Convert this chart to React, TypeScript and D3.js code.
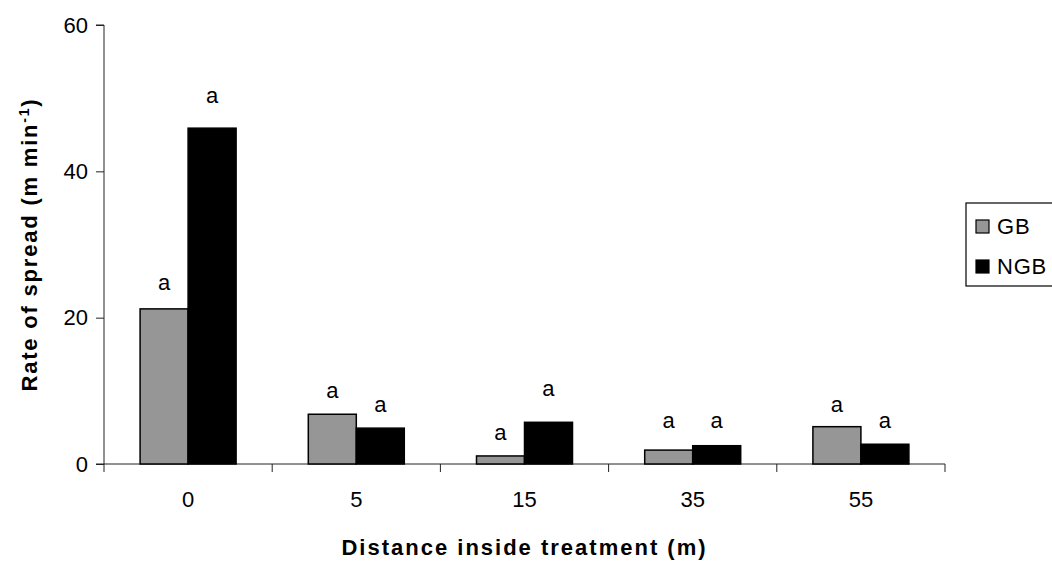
import React, { useEffect, useRef } from 'react'
import * as d3 from 'd3'

const categories = ['0', '5', '15', '35', '55']
const seriesNames = ['GB', 'NGB']
const gbValues = [21.2, 6.8, 1.1, 1.9, 5.1]
const ngbValues = [45.9, 4.9, 5.7, 2.5, 2.7]
// height (in data units) where the "a" letters sit
const gbLabelAt = [23.8, 9.0, 3.3, 4.9, 7.1]
const ngbLabelAt = [49.3, 7.1, 9.3, 4.9, 4.9]
const letters = ['a', 'a', 'a', 'a', 'a']
const yTicks = [0, 20, 40, 60]

const W = 1052
const H = 563
const margin = { top: 25, right: 107, bottom: 99, left: 104 }
const fills = { GB: '#969696', NGB: '#000000' }
const font = 'Liberation Sans, Arial, sans-serif'

const App = () => {
  const yRef = useRef<SVGGElement>(null)

  const innerW = W - margin.left - margin.right
  const innerH = H - margin.top - margin.bottom

  const x0 = d3.scaleBand().domain(categories).range([0, innerW]).padding(0)
  const bw = x0.bandwidth()
  const barW = 48
  const x1 = d3.scaleBand().domain(seriesNames).range([bw / 2 - barW, bw / 2 + barW]).padding(0)
  const y = d3.scaleLinear().domain([0, 60]).range([innerH, 0])

  const rows = categories.map((c, i) => ({
    cat: c,
    bars: [
      { key: 'GB', value: gbValues[i], label: gbLabelAt[i] },
      { key: 'NGB', value: ngbValues[i], label: ngbLabelAt[i] },
    ],
    letter: letters[i],
  }))

  useEffect(() => {
    const g = d3.select(yRef.current)
    g.selectAll('*').remove()
    g.call(d3.axisLeft(y).tickValues(yTicks).tickSize(8).tickPadding(8))
    g.selectAll('text').attr('font-size', 22).attr('font-family', font).attr('fill', '#000')
    g.selectAll('line').attr('stroke', '#222')
    g.select('.domain').attr('stroke', '#222').attr('d', `M-8,0H0V${innerH + 8}`)
  }, [])

  return (
    <svg width={W} height={H} style={{ position: 'absolute', left: 0, top: 0 }} fontFamily={font}>
      <g transform={`translate(${margin.left},${margin.top})`}>
        {/* x axis line with boundary ticks */}
        <line x1={-8} x2={innerW} y1={innerH} y2={innerH} stroke="#222" />
        {categories.map((c, i) => i > 0 ? (
          <line key={c} x1={x0(c)} x2={x0(c)} y1={innerH} y2={innerH + 8} stroke="#222" />
        ) : null)}
        <line x1={innerW} x2={innerW} y1={innerH} y2={innerH + 8} stroke="#222" />

        {rows.map(r => (
          <g key={r.cat} transform={`translate(${x0(r.cat)},0)`}>
            {r.bars.map(b => (
              <g key={b.key}>
                <rect
                  x={x1(b.key)}
                  y={y(b.value)}
                  width={x1.bandwidth()}
                  height={innerH - y(b.value)}
                  fill={fills[b.key as 'GB' | 'NGB']}
                  stroke="#000"
                  strokeWidth={1.5}
                />
                <text
                  x={(x1(b.key) as number) + x1.bandwidth() / 2}
                  y={y(b.label)}
                  textAnchor="middle"
                  fontSize={22}
                >{r.letter}</text>
              </g>
            ))}
            <text x={bw / 2} y={innerH + 43} textAnchor="middle" fontSize={22}>{r.cat}</text>
          </g>
        ))}

        <g ref={yRef} />

        <text x={innerW / 2} y={innerH + 91} textAnchor="middle" fontSize={22} fontWeight="bold" letterSpacing={2}>
          Distance inside treatment (m)
        </text>
        <text
          transform={`translate(${-67},${innerH / 2}) rotate(-90)`}
          textAnchor="middle"
          fontSize={22}
          fontWeight="bold"
          letterSpacing={1.8}
        >
          Rate of spread (m min<tspan dy={-8} fontSize={14}>-1</tspan><tspan dy={8}>)</tspan>
        </text>
      </g>

      {/* legend */}
      <g transform="translate(966,203)">
        <rect x={0} y={0} width={100} height={83} fill="#fff" stroke="#000" strokeWidth={1.2} />
        {seriesNames.map((s, i) => (
          <g key={s} transform={`translate(10,${17 + i * 40})`}>
            <rect x={0} y={0} width={13} height={13} fill={fills[s as 'GB' | 'NGB']} stroke="#000" strokeWidth={1.2} />
            <text x={21} y={14} fontSize={22} letterSpacing={0.8}>{s}</text>
          </g>
        ))}
      </g>
    </svg>
  )
}

export default App
